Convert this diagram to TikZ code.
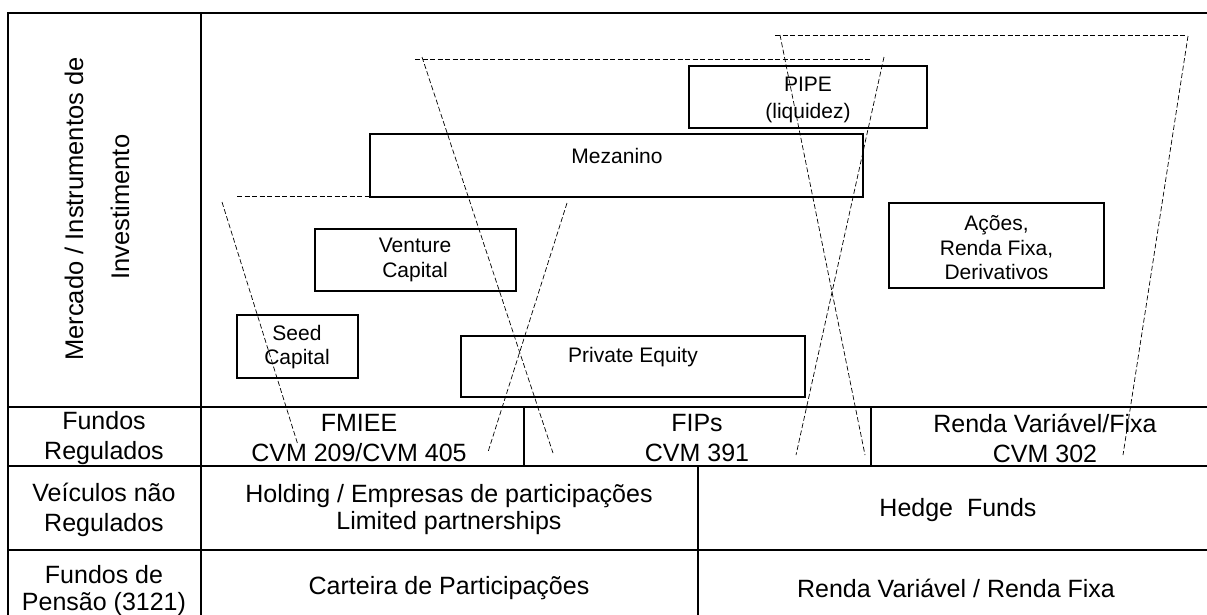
\documentclass[tikz,border=0pt]{standalone}
\usepackage{fontspec}
\setmainfont{Liberation Sans}
\begin{document}
\begin{tikzpicture}[x=1pt,y=-1pt,
  tbl/.style={line width=1.5pt},
  inst/.style={draw, line width=1.3pt, inner sep=0pt},
  btxt/.style={font=\fontsize{21}{24.5}\selectfont, align=center, inner sep=0pt},
  ttxt/.style={font=\fontsize{25}{30}\selectfont, align=center, inner sep=0pt},
  ltxt/.style={font=\fontsize{25.5}{29}\selectfont, rotate=90, inner sep=0pt},
  funnel/.style={line width=0.7pt, dash pattern=on 5pt off 2.5pt}]
\useasboundingbox (0,0) rectangle (1207,614);

% table
\draw[tbl] (8,13) rectangle (1217,632);
\draw[tbl] (201,13) -- (201,632);
\draw[tbl] (8,407) -- (1217,407);
\draw[tbl] (8,466) -- (1217,466);
\draw[tbl] (8,550) -- (1217,550);
\draw[tbl] (524,407) -- (524,466);
\draw[tbl] (871,407) -- (871,466);
\draw[tbl] (698,466) -- (698,632);

% row labels
\node[ltxt] (lab1) at (74,209) {Mercado / Instrumentos de};
\node[ltxt] (lab2) at (120,207) {Investimento};
\node[ttxt] (fr) at (104,438) {Fundos\\Regulados};
\node[ttxt] (vn) at (104,510) {Veículos não\\Regulados};
\node[ttxt] (fp) at (104,591) {Fundos de\\[-3pt]Pensão (3121)};

% cells
\node[ttxt] (fmiee) at (359,438) {FMIEE\\CVM 209/CVM 405};
\node[ttxt] (fips) at (697,438) {FIPs\\CVM 391};
\node[ttxt] (rvf) at (1045,438) {Renda Variável/Fixa\\CVM 302};
\node[ttxt] (hold) at (449,510) {Holding / Empresas de participações\\[-3pt]Limited partnerships};
\node[ttxt] (hedge) at (958,510) {Hedge~~Funds};
\node[ttxt] (cart) at (449,588) {Carteira de Participações};
\node[ttxt] (rvrf) at (956,588) {Renda Variável / Renda Fixa};

% instrument boxes
\node[inst, minimum width=121pt, minimum height=63pt] (seed) at (297.5,346.5) {};
\node[inst, minimum width=201pt, minimum height=62pt] (venture) at (415.5,260) {};
\node[inst, minimum width=344pt, minimum height=61pt] (pe) at (633,366.5) {};
\node[inst, minimum width=493pt, minimum height=63pt] (mez) at (616.5,165.5) {};
\node[inst, minimum width=238pt, minimum height=62pt] (pipe) at (808,97) {};
\node[inst, minimum width=215pt, minimum height=85pt] (acoes) at (996.5,245.5) {};

\node[btxt] (seedt) at (297,347) {Seed\\Capital};
\node[btxt] (venturet) at (415,260) {Venture\\Capital};
\node[btxt] (pet) at (633,357) {Private Equity};
\node[btxt] (mezt) at (617,156) {Mezanino};
\node[btxt] (pipet) at (808,100) {PIPE\\[2pt](liquidez)};
\node[btxt] (acoest) at (996.5,248) {Ações,\\Renda Fixa,\\Derivativos};

% funnels
\coordinate (a1) at (237,196); \coordinate (a2) at (567,196);
\coordinate (a3) at (222,202); \coordinate (a4) at (298,445);
\coordinate (a5) at (567,203); \coordinate (a6) at (488,452);
\draw[funnel] (a1) -- (a2);
\draw[funnel] (a3) -- (a4);
\draw[funnel] (a5) -- (a6);

\coordinate (b1) at (415,59); \coordinate (b2) at (872,59);
\coordinate (b3) at (422,57); \coordinate (b4) at (553,453);
\coordinate (b5) at (884,57); \coordinate (b6) at (796,455);
\draw[funnel] (b1) -- (b2);
\draw[funnel] (b3) -- (b4);
\draw[funnel] (b5) -- (b6);

\coordinate (c1) at (775,35); \coordinate (c2) at (1185,35);
\coordinate (c3) at (780,35); \coordinate (c4) at (865,455);
\coordinate (c5) at (1188,36); \coordinate (c6) at (1123,455);
\draw[funnel] (c1) -- (c2);
\draw[funnel] (c3) -- (c4);
\draw[funnel] (c5) -- (c6);
\end{tikzpicture}
\end{document}
